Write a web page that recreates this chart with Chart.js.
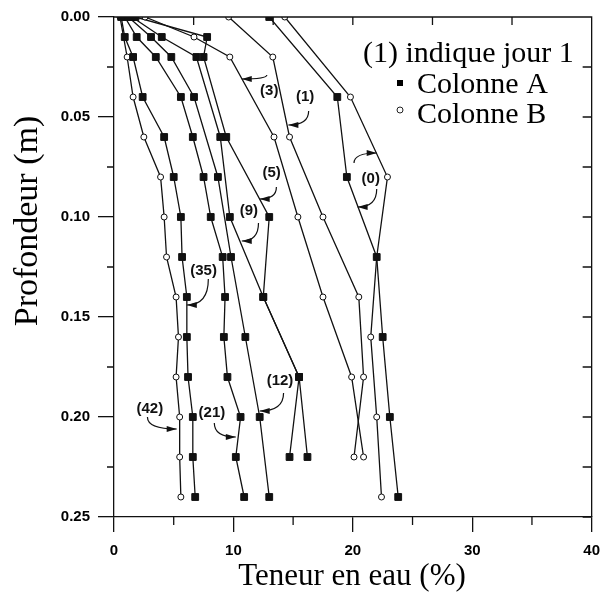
<!DOCTYPE html>
<html>
<head>
<meta charset="utf-8">
<script src="https://cdn.jsdelivr.net/npm/chart.js@4"></script>
<style>
body{margin:0;background:#fff;}
canvas{display:block;}
</style>
</head>
<body>
<canvas id="profil" width="610" height="594"></canvas>
<script>
// ================= DATA =================
// depth grids (m)
const gridFine = [0, 0.01, 0.02, 0.04, 0.06, 0.08, 0.10, 0.12, 0.14, 0.16, 0.18, 0.20, 0.22, 0.24];
const gridEven = [0, 0.04, 0.08, 0.12, 0.16, 0.20, 0.24];
const gridOdd = [0, 0.02, 0.06, 0.10, 0.14, 0.18, 0.22];
const gridOdd2 = [0, 0.01, 0.02, 0.06, 0.10, 0.14, 0.18, 0.22];
const grid12 = [0, 0.01, 0.02, 0.04, 0.08, 0.12, 0.16, 0.20, 0.24];
const grid42 = [0, 0.02, 0.04, 0.06, 0.08, 0.10, 0.12, 0.14, 0.16, 0.18, 0.20, 0.22, 0.24];

// teneur en eau (%)
const day0A = [13.0, 18.7, 19.5, 22.0, 22.5, 23.1, 23.8];
const day0B = [14.3, 19.8, 22.9, 22.0, 21.5, 22.0, 22.4];
const day1B = [9.6, 13.3, 14.7, 17.5, 20.5, 20.9, 20.1];
const day3B = [2.6, 6.7, 9.7, 13.4, 15.4, 17.5, 19.9, 20.9];
const day5A = [1.8, 7.8, 7.5, 9.4, 13.0, 12.5, 15.5, 16.2];
const day9A = [1.5, 4.0, 6.9, 8.9, 9.7, 12.5, 15.5, 14.7];
const day12A = [1.2, 3.1, 4.8, 6.7, 8.7, 9.8, 11.0, 12.2, 13.0];
const day21A = [0.9, 1.9, 3.5, 5.6, 6.6, 7.5, 8.1, 9.1, 9.3, 9.2, 9.5, 10.6, 10.2, 10.9];
const day35A = [0.6, 0.9, 1.6, 2.4, 4.2, 5.0, 5.6, 5.7, 6.1, 6.1, 6.2, 6.6, 6.6, 6.8];
const day42B = [0.5, 1.1, 1.6, 2.5, 3.9, 4.2, 4.4, 5.2, 5.4, 5.2, 5.5, 5.5, 5.6];

// day labels and their arrows (data coords)
const dayLabels = ['(0)', '(1)', '(3)', '(5)', '(9)', '(12)', '(21)', '(35)', '(42)'];
const labelX = [21.5, 16.0, 13.0, 13.2, 11.3, 13.9, 8.2, 7.5, 3.0];
const labelY = [0.081, 0.040, 0.037, 0.078, 0.097, 0.182, 0.198, 0.127, 0.196];
const arrowTailX = [22.0, 20.1, 16.3, 12.8, 13.6, 12.1, 14.2, 8.4, 7.9, 2.8];
const arrowTailY = [0.086, 0.073, 0.047, 0.029, 0.085, 0.103, 0.188, 0.203, 0.131, 0.200];
const arrowHeadX = [20.4, 22.0, 14.6, 10.7, 12.2, 10.7, 12.2, 10.2, 6.1, 5.25];
const arrowHeadY = [0.095, 0.068, 0.054, 0.031, 0.091, 0.112, 0.197, 0.210, 0.144, 0.206];

// frame ticks
const topTicks = [6.67, 13.33, 20, 26.67, 33.33];

// ================= DATASETS =================
function serie(depths, vals, col){
  return {
    data: depths.map((d,i)=>({x: vals[i], y: d})),
    showLine: true,
    borderColor: '#111',
    borderWidth: 1.3,
    tension: 0,
    pointStyle: col == 'A' ? 'rect' : 'circle',
    pointRadius: col == 'A' ? 4.8 : 3,
    pointBorderWidth: 1,
    pointBorderColor: '#111',
    pointBackgroundColor: col == 'A' ? '#111' : '#fff'
  };
}

const datasets = [
  serie(gridEven, day0A, 'A'),
  serie(gridEven, day0B, 'B'),
  serie(gridOdd, day1B, 'B'),
  serie(gridOdd2, day3B, 'B'),
  serie(gridOdd2, day5A, 'A'),
  serie(gridOdd2, day9A, 'A'),
  serie(grid12, day12A, 'A'),
  serie(gridFine, day21A, 'A'),
  serie(gridFine, day35A, 'A'),
  serie(grid42, day42B, 'B')
];

// ================= FRAME / LABELS =================
const frame = {
  id: 'frame',
  afterDraw(chart){
    const ctx = chart.ctx;
    const a = chart.chartArea;
    const x = chart.scales.x, y = chart.scales.y;
    ctx.save();
    ctx.strokeStyle = '#111';
    ctx.lineWidth = 1.3;

    // top and right border
    ctx.beginPath();
    ctx.moveTo(a.left, a.top); ctx.lineTo(a.right, a.top); ctx.lineTo(a.right, a.bottom);
    ctx.stroke();

    // minor ticks
    ctx.beginPath();
    for(let v=0.025; v<0.25; v+=0.05){
      const py = y.getPixelForValue(v);
      ctx.moveTo(a.left-7, py); ctx.lineTo(a.left, py);
    }
    for(let v=5; v<40; v+=10){
      const px = x.getPixelForValue(v);
      ctx.moveTo(px, a.bottom); ctx.lineTo(px, a.bottom+8);
    }
    // inner ticks top / right
    topTicks.forEach(v=>{
      const px = x.getPixelForValue(v);
      ctx.moveTo(px, a.top); ctx.lineTo(px, a.top+8);
    });
    for(let v=0.025; v<0.25; v+=0.025){
      const py = y.getPixelForValue(v);
      ctx.moveTo(a.right, py); ctx.lineTo(a.right-9, py);
    }
    ctx.stroke();

    // day labels
    ctx.fillStyle = '#111';
    ctx.font = 'bold 15px "Liberation Sans", Arial, sans-serif';
    ctx.textAlign = 'center';
    ctx.textBaseline = 'middle';
    dayLabels.forEach((t,i)=>{
      ctx.fillText(t, x.getPixelForValue(labelX[i]), y.getPixelForValue(labelY[i]));
    });

    // curved arrows
    ctx.lineWidth = 1.2;
    arrowTailX.forEach((v,i)=>{
      const tx = x.getPixelForValue(v), ty = y.getPixelForValue(arrowTailY[i]);
      const hx = x.getPixelForValue(arrowHeadX[i]), hy = y.getPixelForValue(arrowHeadY[i]);
      const cx = tx, cy = hy;
      ctx.beginPath();
      ctx.moveTo(tx, ty);
      ctx.quadraticCurveTo(cx, cy, hx, hy);
      ctx.stroke();
      const ang = Math.atan2(hy-cy, hx-cx);
      ctx.beginPath();
      ctx.moveTo(hx, hy);
      ctx.lineTo(hx - 10*Math.cos(ang) + 3*Math.sin(ang), hy - 10*Math.sin(ang) - 3*Math.cos(ang));
      ctx.lineTo(hx - 10*Math.cos(ang) - 3*Math.sin(ang), hy - 10*Math.sin(ang) + 3*Math.cos(ang));
      ctx.closePath();
      ctx.fill();
    });

    // legend
    ctx.fillStyle = '#000';
    ctx.font = '30px "Liberation Serif", "Times New Roman", serif';
    ctx.textAlign = 'left';
    ctx.textBaseline = 'alphabetic';
    ctx.fillText('(1) indique jour 1', 363, 62);
    ctx.fillText('Colonne A', 417, 93);
    ctx.fillText('Colonne B', 417, 123);
    ctx.fillRect(397, 80, 6, 6);
    ctx.beginPath();
    ctx.arc(400, 110, 3, 0, Math.PI*2);
    ctx.fillStyle = '#fff'; ctx.fill();
    ctx.lineWidth = 1; ctx.strokeStyle = '#222'; ctx.stroke();

    // axis titles
    ctx.fillStyle = '#000';
    ctx.textAlign = 'center';
    ctx.textBaseline = 'middle';
    ctx.font = '31px "Liberation Serif", "Times New Roman", serif';
    ctx.fillText('Teneur en eau (%)', 352, 577);
    ctx.translate(28, 221);
    ctx.rotate(-Math.PI/2);
    ctx.font = '34px "Liberation Serif", "Times New Roman", serif';
    ctx.fillText('Profondeur (m)', 0, 0);
    ctx.restore();
  }
};

// ================= CHART =================
const tickFont = {family: '"Liberation Sans", Arial, sans-serif', weight: 'bold', size: 15};

new Chart(document.getElementById('profil'), {
  type: 'scatter',
  data: {datasets},
  options: {
    responsive: false,
    animation: false,
    layout: {padding: {top: 17, right: 7, left: 0, bottom: 0}},
    plugins: {legend: {display: false}, tooltip: {enabled: false}},
    scales: {
      x: {
        min: 0, max: 40,
        ticks: {stepSize: 10, color: '#000', font: tickFont, padding: 10, maxRotation: 0},
        grid: {drawOnChartArea: false, tickLength: 15, color: '#111', lineWidth: 1.3},
        border: {color: '#111', width: 1.3},
        afterFit(s){ s.height = 77; }
      },
      y: {
        min: 0, max: 0.25, reverse: true,
        ticks: {stepSize: 0.05, color: '#000', font: tickFont, padding: 8, callback: v => v.toFixed(2)},
        grid: {drawOnChartArea: false, tickLength: 16, color: '#111', lineWidth: 1.3},
        border: {color: '#111', width: 1.3},
        afterFit(s){ s.width = 114; }
      }
    }
  },
  plugins: [frame]
});
</script>
</body>
</html>
